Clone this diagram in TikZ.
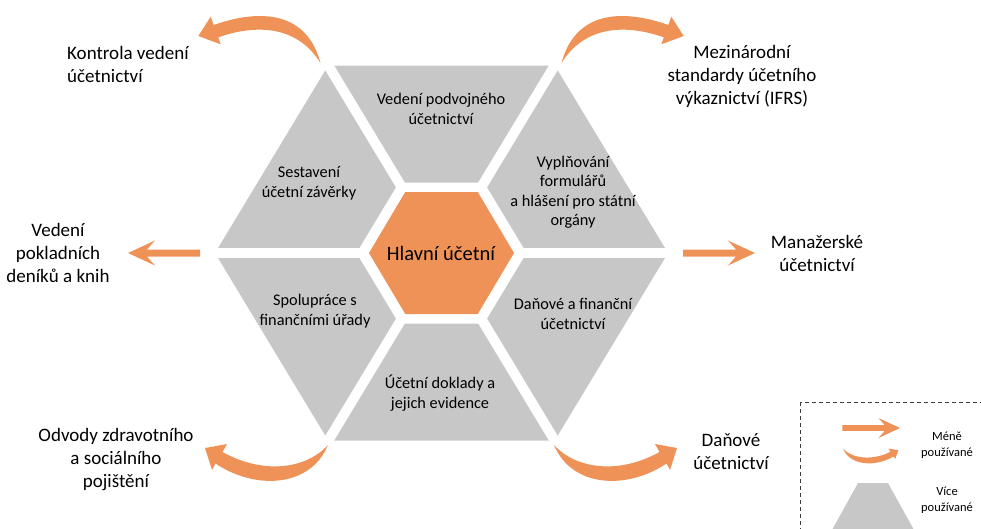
\documentclass[tikz,border=0pt]{standalone}
\usepackage{fontspec}
\setmainfont{Carlito}
\definecolor{segGray}{RGB}{200,199,199}
\definecolor{accentOrange}{RGB}{239,146,88}
\definecolor{legendLine}{RGB}{60,60,60}
\begin{document}
\begin{tikzpicture}[x=1pt,y=-1pt,
  segment/.style={fill=segGray},
  accent/.style={fill=accentOrange},
  gap/.style={draw=white,line width=10pt},
  inlabel/.style={align=center,inner sep=0pt,font=\fontsize{16.3}{19.5}\selectfont},
  outlabel/.style={align=center,inner sep=0pt,font=\fontsize{19}{23}\selectfont},
  leglabel/.style={align=center,inner sep=0pt,font=\fontsize{12.5}{16}\selectfont},
  flatarrow/.pic={\fill[accent] (0,0) -- (-27,-12.5) -- (-19,-3.5) -- (-72,-3.5)
      -- (-72,3.5) -- (-19,3.5) -- (-27,12.5) -- cycle;},
  swoosh/.pic={\fill[accent] (0,0) .. controls (-18,43) and (-73,45) .. (-112.5,18.5)
      -- (-116,25) -- (-123,3) -- (-101,-1) -- (-105.5,7)
      .. controls (-66,29) and (-23,25) .. (0,0) -- cycle;},
  archarrow/.pic={\fill[accent] (0,0) .. controls (-15.5,-58) and (-70.5,-51) .. (-106.8,-38)
      -- (-109.8,-46.3) -- (-122.2,-27) -- (-99.8,-18.7) -- (-102.3,-25.6)
      .. controls (-70.5,-37) and (-25.5,-41) .. (0,0) -- cycle;}
]
\useasboundingbox (0,0) rectangle (981,528);
\clip (0,0) rectangle (981,528);

% hexagon of six segments around the central cell
\begin{scope}[shift={(441.5,253)}]
  \fill[segment] (226.5,0) -- (113.25,-187.5) -- (-113.25,-187.5) -- (-226.5,0)
     -- (-113.25,187.5) -- (113.25,187.5) -- cycle;
  \draw[gap] (-250,0) -- (250,0);
  \draw[gap] (-125,-207) -- (125,207);
  \draw[gap] (125,-207) -- (-125,207);
  \fill[white] (85,0) -- (42.5,-70.5) -- (-42.5,-70.5) -- (-85,0)
     -- (-42.5,70.5) -- (42.5,70.5) -- cycle;
  \fill[accent] (72.5,0) -- (36.25,-61) -- (-36.25,-61) -- (-72.5,0)
     -- (-36.25,61) -- (36.25,61) -- cycle;
\end{scope}

% segment texts
\node[font=\fontsize{20.5}{24}\selectfont,inner sep=0pt] (main) at (441,253) {Hlavní účetní};
\node[inlabel] (top) at (441,109) {Vedení podvojného\\účetnictví};
\node[inlabel] (topleft) at (309,183) {Sestavení\\účetní závěrky};
\node[inlabel] (topright) at (573,192) {Vyplňování\\formulářů\\a hlášení pro státní\\orgány};
\node[inlabel] (botleft) at (315,311) {Spolupráce s\\finančními úřady};
\node[inlabel] (botright) at (573,314) {Daňové a finanční\\účetnictví};
\node[inlabel] (bottom) at (440,393) {Účetní doklady a\\jejich evidence};

% outer texts
\node[outlabel,align=left,anchor=west] (control) at (67,64) {Kontrola vedení\\účetnictví};
\node[outlabel] (ifrs) at (742,76) {Mezinárodní\\standardy účetního\\výkaznictví (IFRS)};
\node[outlabel] (cash) at (58,253) {Vedení\\pokladních\\deníků a knih};
\node[outlabel] (manage) at (817,253) {Manažerské\\účetnictví};
\node[outlabel] (insure) at (116,460) {Odvody zdravotního\\a sociálního\\pojištění};
\node[outlabel] (tax) at (731,452) {Daňové\\účetnictví};

% arrows towards the outer texts
\pic[rotate=180] at (128,253) {flatarrow};
\pic at (755,253) {flatarrow};
\pic at (320.5,63) {archarrow};
\pic[xscale=-1] at (561.5,63) {archarrow};
\pic at (328,445) {swoosh};
\pic[xscale=-1] at (554,445) {swoosh};

% legend
\draw[legendLine,line width=1pt,dash pattern=on 4pt off 3pt] (800,402) rectangle (1000,560);
\pic[scale=0.8] at (900,428) {flatarrow};
\pic[xscale=-0.45,yscale=0.4] at (843,449) {swoosh};
\fill[segment] (858,483) -- (888,483) -- (914,530) -- (832,530) -- cycle;
\node[leglabel] (less) at (947,445) {Méně\\používané};
\node[leglabel] (more) at (947,500) {Více\\používané};
\end{tikzpicture}
\end{document}
